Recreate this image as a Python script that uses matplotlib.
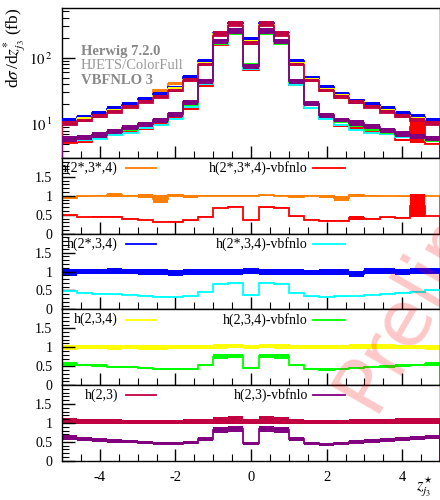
import numpy as np
import matplotlib.pyplot as plt
from matplotlib.ticker import MultipleLocator, FixedLocator, NullFormatter, LogLocator

plt.rcParams['font.family'] = ['Liberation Serif', 'DejaVu Serif']
plt.rcParams['mathtext.fontset'] = 'stix'
plt.rcParams['font.size'] = 10

# 25 bins in z*_j3
edges = np.linspace(-5.0, 5.0, 26)

# Herwig cross sections per bin (fb), one per shower setup
xs_h2s3s4 = [10.8, 12.2, 13.8, 16.3, 18.8, 23.0, 33.0, 40.5, 48.0, 84.0, 230, 320, 178,
             320, 230, 84.0, 48.0, 35.0, 27.5, 22.5, 18.8, 16.3, 13.8, 12.3, 10.8]
xs_h2s34 = [11.6, 13.0, 14.6, 17.1, 19.7, 24.0, 28.6, 36.5, 50.9, 88.9, 235, 335, 186,
            335, 235, 88.9, 50.9, 36.5, 28.6, 23.5, 19.7, 17.1, 14.6, 13.0, 11.4]
xs_h234 = [10.6, 12.0, 13.5, 15.8, 18.2, 22.2, 26.5, 33.8, 47.0, 82.0, 228, 315, 172,
           315, 228, 82.0, 47.0, 33.8, 26.5, 21.8, 18.2, 15.8, 13.5, 12.0, 10.5]
xs_h23 = [9.8, 11.0, 12.7, 14.8, 17.6, 20.9, 24.9, 31.3, 44.4, 76.6, 215, 305, 160,
          305, 215, 76.6, 44.4, 31.3, 24.9, 20.9, 17.6, 14.8, 12.7, 11.1, 9.8]

# ratios to the Herwig setup of each panel: centre and half width of the band
r_h2s3s4 = [0.955, 0.99, 1.0, 1.018, 1.0, 0.996, 0.915, 1.01, 0.985, 1.0, 1.005, 1.0, 1.0,
            1.01, 1.0, 0.98, 1.0, 0.985, 0.942, 1.01, 1.0, 0.995, 0.99, 1.0, 0.995]
e_h2s3s4 = [0.045, 0.012, 0.012, 0.053, 0.015, 0.05, 0.11, 0.045, 0.03, 0.012, 0.015, 0.012, 0.015,
            0.015, 0.015, 0.05, 0.012, 0.04, 0.067, 0.045, 0.015, 0.012, 0.015, 0.015, 0.012]
r_h2s3s4_vbf = [0.49, 0.44, 0.445, 0.45, 0.40, 0.365, 0.31, 0.315, 0.35, 0.445, 0.68, 0.71, 0.365,
                0.70, 0.69, 0.46, 0.37, 0.34, 0.34, 0.42, 0.40, 0.43, 0.42, 0.74, 0.47]
e_h2s3s4_vbf = [0.01, 0.01, 0.01, 0.01, 0.01, 0.01, 0.01, 0.01, 0.01, 0.01, 0.01, 0.01, 0.01,
                0.01, 0.01, 0.01, 0.01, 0.01, 0.01, 0.05, 0.01, 0.01, 0.01, 0.31, 0.01]

r_h2s34 = [0.97, 1.0, 1.003, 1.012, 1.008, 0.994, 0.985, 0.967, 0.99, 0.99, 0.99, 0.99, 1.012,
           0.994, 0.99, 0.99, 0.98, 0.99, 0.98, 0.94, 1.003, 1.003, 0.994, 1.003, 1.003]
e_h2s34 = [0.09, 0.067, 0.07, 0.075, 0.072, 0.075, 0.075, 0.075, 0.072, 0.072, 0.072, 0.072, 0.075,
           0.075, 0.072, 0.072, 0.072, 0.08, 0.08, 0.075, 0.08, 0.08, 0.075, 0.08, 0.08]
r_h2s34_vbf = [0.487, 0.443, 0.416, 0.398, 0.38, 0.363, 0.336, 0.327, 0.354, 0.46, 0.683, 0.701, 0.37,
               0.701, 0.683, 0.443, 0.345, 0.327, 0.345, 0.354, 0.38, 0.416, 0.443, 0.469, 0.505]
e_h2s34_vbf = [0.012] * 25

r_h234 = [0.999, 1.012, 1.003, 0.995, 1.003, 0.999, 0.995, 1.008, 1.012, 1.012, 1.017, 1.026, 1.008,
          1.034, 1.017, 1.012, 0.999, 0.999, 1.008, 1.021, 1.017, 1.017, 1.008, 1.008, 0.999]
e_h234 = [0.062, 0.058, 0.052, 0.058, 0.062, 0.06, 0.058, 0.06, 0.058, 0.058, 0.06, 0.055, 0.055,
          0.06, 0.06, 0.058, 0.055, 0.055, 0.055, 0.058, 0.06, 0.06, 0.055, 0.06, 0.06]
r_h234_vbf = [0.557, 0.531, 0.513, 0.487, 0.469, 0.451, 0.425, 0.416, 0.433, 0.531, 0.752, 0.76, 0.451,
              0.769, 0.752, 0.531, 0.425, 0.411, 0.425, 0.451, 0.469, 0.495, 0.513, 0.531, 0.557]
e_h234_vbf = [0.045, 0.038, 0.038, 0.03, 0.03, 0.03, 0.025, 0.03, 0.03, 0.038, 0.06, 0.055, 0.03,
              0.06, 0.06, 0.038, 0.025, 0.028, 0.025, 0.03, 0.03, 0.038, 0.038, 0.038, 0.045]

r_h23 = [1.054, 1.045, 1.045, 1.045, 1.036, 1.036, 1.036, 1.036, 1.045, 1.045, 1.071, 1.08, 1.045,
         1.08, 1.071, 1.045, 1.036, 1.036, 1.036, 1.045, 1.045, 1.045, 1.054, 1.054, 1.054]
e_h23 = [0.07, 0.061, 0.061, 0.061, 0.052, 0.052, 0.052, 0.052, 0.061, 0.061, 0.087, 0.096, 0.061,
         0.096, 0.087, 0.061, 0.052, 0.052, 0.052, 0.061, 0.061, 0.061, 0.07, 0.07, 0.07]
r_h23_vbf = [0.614, 0.578, 0.548, 0.522, 0.505, 0.479, 0.461, 0.448, 0.479, 0.583, 0.818, 0.835, 0.466,
             0.835, 0.818, 0.583, 0.461, 0.435, 0.466, 0.496, 0.522, 0.548, 0.566, 0.596, 0.622]
e_h23_vbf = [0.065, 0.057, 0.052, 0.044, 0.044, 0.044, 0.044, 0.039, 0.044, 0.052, 0.078, 0.078, 0.039,
             0.078, 0.078, 0.052, 0.044, 0.044, 0.039, 0.052, 0.044, 0.052, 0.052, 0.048, 0.057]

labels = ['h(2*,3*,4)', 'h(2*,3,4)', 'h(2,3,4)', 'h(2,3)']
colors = ['#ff8000', '#0000ff', '#ffff00', '#c00040']
colors_vbf = ['#ff0000', '#00ffff', '#00ff00', '#800080']

setups = [
    (xs_h2s3s4, r_h2s3s4, e_h2s3s4, r_h2s3s4_vbf, e_h2s3s4_vbf),
    (xs_h2s34, r_h2s34, e_h2s34, r_h2s34_vbf, e_h2s34_vbf),
    (xs_h234, r_h234, e_h234, r_h234_vbf, e_h234_vbf),
    (xs_h23, r_h23, e_h23, r_h23_vbf, e_h23_vbf),
]


def draw_hist(ax, centre, lo, hi, color, z):
    ax.stairs(hi, edges, baseline=lo, fill=True, color=color, lw=0, zorder=z)
    ax.stairs(centre, edges, color=color, lw=1.3, zorder=z + 0.5)


def style_ticks(ax):
    ax.tick_params(which='both', direction='in', top=False, right=False)
    ax.tick_params(which='major', length=9, width=1.0)
    ax.tick_params(which='minor', length=5, width=0.8)
    ax.set_xlim(-5, 5)
    ax.xaxis.set_major_locator(MultipleLocator(2))
    ax.xaxis.set_minor_locator(MultipleLocator(0.5))
    for s in ax.spines.values():
        s.set_linewidth(1.0)


fig = plt.figure(figsize=(4.4, 5.0), dpi=100)
left, width = 62 / 440, 378 / 440

# main distribution
ax = fig.add_axes([left, 1 - 158 / 500, width, 150 / 500])
z = 1
for (xs, r, e, rv, ev), c, cv in zip(setups, colors, colors_vbf):
    xs = np.array(xs)
    r, e, rv, ev = map(np.array, (r, e, rv, ev))
    draw_hist(ax, xs, xs * (r - e), xs * (r + e), c, z)
    draw_hist(ax, xs * rv, xs * (rv - ev), xs * (rv + ev), cv, z + 1)
    z += 2
ax.set_yscale('log')
ax.set_ylim(3.1, 560)
style_ticks(ax)
ax.yaxis.set_major_locator(FixedLocator([10, 100]))
ax.set_yticklabels([r'$10^{\,1}$', r'$10^{\,2}$'])
ax.yaxis.set_minor_locator(LogLocator(base=10, subs=np.arange(2, 10)))
ax.yaxis.set_minor_formatter(NullFormatter())
ax.tick_params(axis='y', pad=7, labelsize=10.5)
ax.set_xticklabels([])

ax.text(0.05, 0.69, 'Herwig 7.2.0', transform=ax.transAxes, color='#888888',
        fontsize=10.5, fontweight='bold')
ax.text(0.05, 0.595, 'HJETS/ColorFull', transform=ax.transAxes, color='#999999',
        fontsize=10.5)
ax.text(0.05, 0.495, 'VBFNLO 3', transform=ax.transAxes, color='#888888',
        fontsize=10.5, fontweight='bold')

fig.text(15 / 440, 1 - 8 / 500, r'd$\sigma\,$/d$z^{*}_{j_3}$ (fb)', rotation=90,
         ha='center', va='top', fontsize=12.5)

# ratio panels
panel_h = 75.7 / 500
for i, ((xs, r, e, rv, ev), c, cv, lab) in enumerate(zip(setups, colors, colors_vbf, labels)):
    bottom = 1 - 158 / 500 - (i + 1) * panel_h
    rax = fig.add_axes([left, bottom, width, panel_h])
    r, e, rv, ev = map(np.array, (r, e, rv, ev))
    draw_hist(rax, r, r - e, r + e, c, 1)
    draw_hist(rax, rv, rv - ev, rv + ev, cv, 2)
    rax.set_ylim(0, 2.0)
    style_ticks(rax)
    rax.yaxis.set_major_locator(FixedLocator([0, 0.5, 1, 1.5]))
    rax.set_yticklabels(['0', '0.5', '1', '1.5'])
    rax.yaxis.set_minor_locator(MultipleLocator(0.1))
    rax.tick_params(axis='y', pad=7, labelsize=10)

    # legend entries
    rax.text(0.148, 0.865, lab, transform=rax.transAxes, ha='right', va='center',
             fontsize=10, clip_on=True)
    rax.plot([0.169, 0.249], [0.865, 0.865], transform=rax.transAxes, color=c, lw=1.3)
    rax.text(0.651, 0.865, lab + '-vbfnlo', transform=rax.transAxes, ha='right',
             va='center', fontsize=10)
    rax.plot([0.664, 0.749], [0.865, 0.865], transform=rax.transAxes, color=cv, lw=1.3)

    if i < 3:
        rax.set_xticklabels([])
    else:
        rax.set_xticks([-4, -2, 0, 2, 4], ['-4', '-2', '0', '2', '4'])
        rax.tick_params(axis='x', pad=7, labelsize=10.5)

fig.text(425 / 440, 1 - 487 / 500, r'$z^{\star}_{j_3}$', ha='center', va='center',
         fontsize=12)

fig.text(373 / 440, 1 - 414 / 500, 'Preliminary', rotation=60, rotation_mode='anchor',
         ha='left', va='baseline', fontsize=56, color='red', alpha=0.22,
         family='DejaVu Sans', zorder=20)

fig.savefig('out.png', dpi=100)
